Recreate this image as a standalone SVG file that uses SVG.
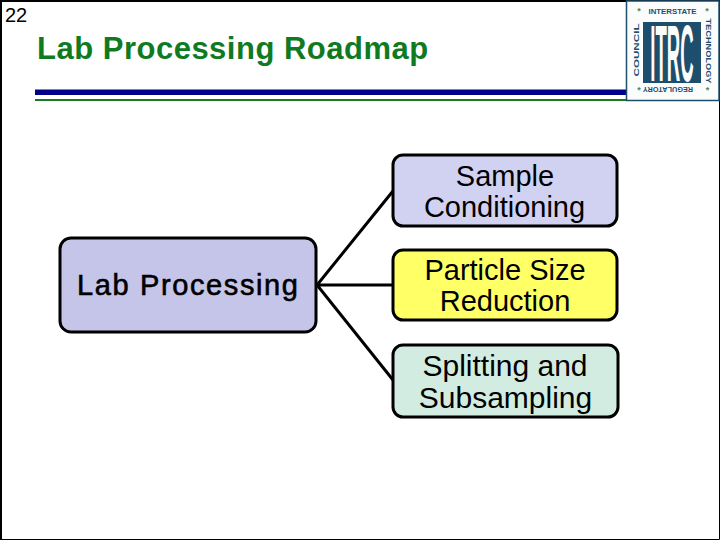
<svg xmlns="http://www.w3.org/2000/svg" width="720" height="540" viewBox="0 0 720 540">
<style>
text{font-family:"Liberation Sans",Arial,sans-serif}
.box{stroke:#000;stroke-width:3}
.t{font-size:29px;text-anchor:middle;fill:#000}
.t3{font-size:30px;text-anchor:middle;fill:#000}
.c{stroke:#000;stroke-width:3;fill:none}
.logo{fill:#1d4e6e;font-weight:bold;font-size:8px;text-anchor:middle}
.star{fill:#4d8a5a;font-size:9px;font-weight:bold;text-anchor:middle}
</style>
<rect x="0" y="0" width="720" height="540" fill="#fff"/>
<path d="M0.5 0.500V539.500H719.500V0.500Z" fill="none" stroke="#000" stroke-width="1"/>
<rect x="0" y="0" width="720" height="2" fill="#000"/>
<rect x="0" y="0" width="2" height="540" fill="#000"/>
<text x="5" y="22" font-size="20">22</text>
<text x="37" y="59" font-size="31" font-weight="bold" fill="#0f7a1f" letter-spacing="0.5">Lab Processing Roadmap</text>
<rect x="35" y="89.500" width="592" height="5.500" fill="#00008b"/>
<rect x="35" y="99" width="592" height="2" fill="#177a22"/>
<g id="logo">
<rect x="626.500" y="1" width="92.500" height="99.500" fill="#fbfcfc" stroke="#1d4e6e" stroke-width="1.500"/>
<text class="logo" x="672.500" y="14" font-size="9" textLength="48" lengthAdjust="spacingAndGlyphs">INTERSTATE</text>
<text class="logo" transform="translate(668 86.500) rotate(180)" x="0" y="0" textLength="50" lengthAdjust="spacingAndGlyphs">REGULATORY</text>
<text class="logo" transform="translate(639 50) rotate(-90)" x="0" y="0" textLength="53" lengthAdjust="spacingAndGlyphs">COUNCIL</text>
<text class="logo" transform="translate(706 51) rotate(90)" x="0" y="0" textLength="65" lengthAdjust="spacingAndGlyphs">TECHNOLOGY</text>
<text class="star" x="639" y="14">*</text>
<text class="star" x="707" y="14">*</text>
<text class="star" x="639" y="93">*</text>
<text class="star" x="707.500" y="93">*</text>
<rect x="643" y="22" width="58" height="61" fill="#1d4e6e"/>
<text transform="translate(672 81) scale(.62 2.650)" x="0" y="0" font-size="30" font-weight="bold" fill="#fbfcfc" text-anchor="middle">ITRC</text>
</g>
<g id="connectors">
<path class="c" d="M393 191L317 285L393 380M317 285H393"/>
</g>
<g id="node-lab">
<rect class="box" x="60" y="238" width="256" height="94" rx="11" fill="#c5c5e9"/>
<text class="t" x="187.500" y="295" stroke="#000" stroke-width="0.600" textLength="221" lengthAdjust="spacing">Lab Processing</text>
</g>
<g id="node-sample">
<rect class="box" x="393" y="155" width="224" height="71" rx="10" fill="#d1d1f2"/>
<text class="t" x="505" y="186">Sample</text>
<text class="t" x="504.500" y="217">Conditioning</text>
</g>
<g id="node-particle">
<rect class="box" x="393" y="250" width="224" height="70" rx="10" fill="#ffff66"/>
<text class="t" x="505" y="280">Particle Size</text>
<text class="t" x="505" y="311">Reduction</text>
</g>
<g id="node-split">
<rect class="box" x="393" y="345" width="225" height="72" rx="10" fill="#d2ece2"/>
<text class="t3" x="505" y="376">Splitting and</text>
<text class="t3" x="505.500" y="408">Subsampling</text>
</g>
</svg>
